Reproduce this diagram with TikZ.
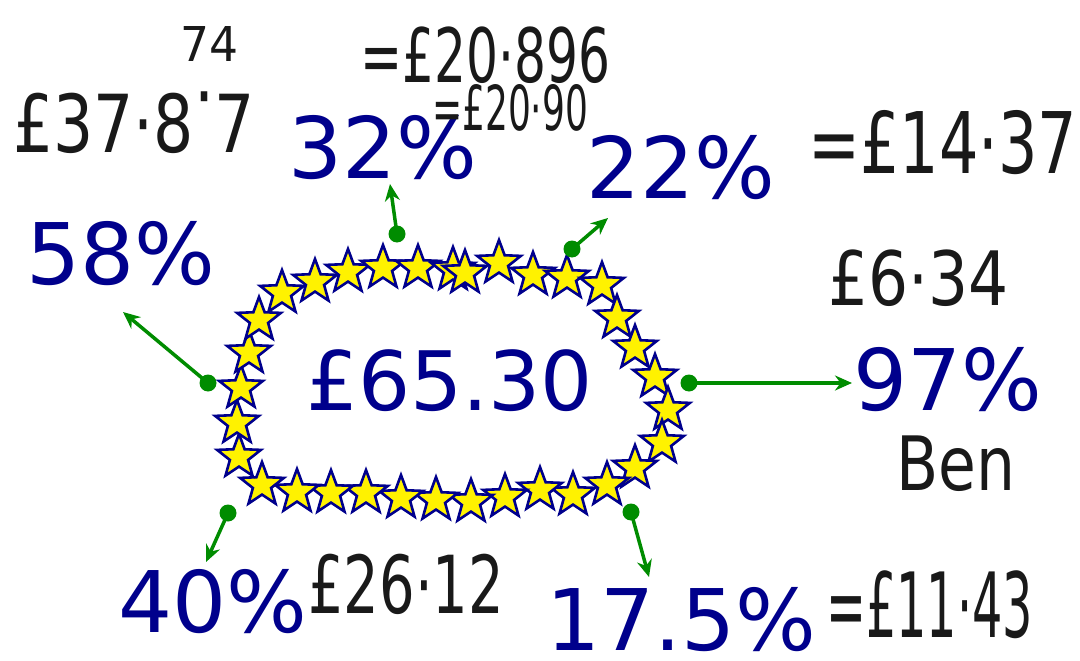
\documentclass[tikz,border=0pt]{standalone}
\usepackage{fontspec}
\setmainfont{DejaVu Sans}
\usetikzlibrary{arrows.meta,shapes.geometric}
\definecolor{pctblue}{RGB}{0,0,140}
\definecolor{ptrgreen}{RGB}{0,140,0}
\tikzset{
  pct/.style={anchor=base west,inner sep=0pt,text=pctblue,font=\fontsize{85}{96}\selectfont},
  ringstar/.style={star,star points=5,star point ratio=2.4,minimum size=46pt,inner sep=0pt,
    fill=yellow,draw=pctblue,line width=2.6pt},
  pointer/.style={ptrgreen,line width=3.5pt,-{Stealth[length=17pt,width=15pt]}},
  ink/.style={anchor=base west,inner sep=0pt,text=black!90},
}
% handwritten note: size, squeeze, text
\newcommand{\hand}[3]{\fontsize{#1}{#1}\selectfont\scalebox{#2}[1]{#3}}

\begin{document}
\begin{tikzpicture}[x=1pt,y=-1pt]
\useasboundingbox (0,0) rectangle (1080,661);
% ring of stars
\foreach \sx/\sy [count=\i] in {282/293,315/282,348/272,383/268,418/268,453/270,465/273,499/263,533/275,567/278,602/285,
  617/318,635/348,655/377,668/410,662/443,635/468,607/485,
  573/495,540/490,505/497,471/502,436/500,401/498,366/493,331/493,297/492,262/485,
  239/457,237/423,241/388,249/353,259/320}
  \node[ringstar] (s\i) at (\sx,\sy) {};
% amount in the middle
\node[pct,font=\fontsize{82}{96}\selectfont] (total) at (306,410) {£65.30};
% percentages
\node[pct] (p32) at (288,178) {32\%};
\node[pct] (p22) at (586,198) {22\%};
\node[pct] (p58) at (26,284) {58\%};
\node[pct] (p97) at (853,410) {97\%};
\node[pct] (p40) at (118,632) {40\%};
\node[pct] (p175) at (546,650) {17.5\%};
% pointers
\coordinate (d32) at (397,234);  \coordinate (t32) at (390,184);
\coordinate (d22) at (572,249);  \coordinate (t22) at (608,218);
\coordinate (d58) at (208,383);  \coordinate (t58) at (123,312);
\coordinate (d97) at (689,383);  \coordinate (t97) at (852,383);
\coordinate (d40) at (228,513);  \coordinate (t40) at (206,562);
\coordinate (d175) at (631,512); \coordinate (t175) at (649,577);
\foreach \p in {32,22,58,97,40,175} {
  \fill[ptrgreen] (d\p) circle (8.5pt);
  \draw[pointer] (d\p) -- (t\p);
}
% handwritten workings
\node[ink] (w74) at (180,62) {\hand{48}{0.95}{74}};
\node[ink] (w58) at (13,153) {\hand{80}{0.79}{£37·8\raisebox{0.35em}{·}7}};
\node[ink] (w32a) at (360,83) {\hand{75}{0.67}{=£20·896}};
\node[ink] (w32b) at (432,130) {\hand{62}{0.58}{=£20·90}};
\node[ink] (w22) at (808,173) {\hand{85}{0.73}{=£14·37}};
\node[ink] (w97) at (828,305) {\hand{75}{0.84}{£6·34}};
\node[ink] (ben) at (896,490) {\hand{75}{0.82}{Ben}};
\node[ink] (w40) at (308,613) {\hand{80}{0.70}{£26·12}};
\node[ink] (w175) at (826,637) {\hand{90}{0.53}{=£11·43}};
\end{tikzpicture}
\end{document}
